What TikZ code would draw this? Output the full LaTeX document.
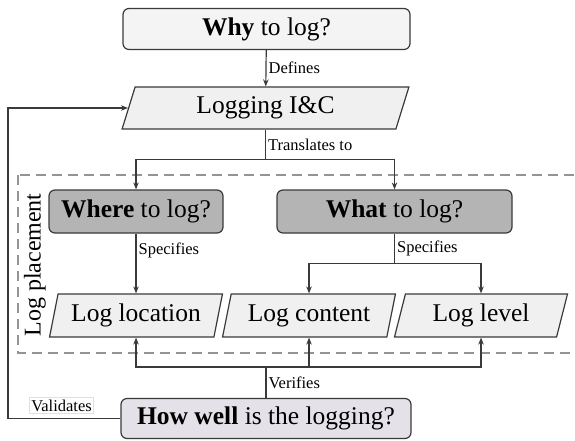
\documentclass[tikz,border=0pt]{standalone}
\usepackage{fontspec}
\setmainfont{Liberation Serif}
\usepackage{tikz}
\usetikzlibrary{arrows.meta}
\usetikzlibrary{shapes.geometric}
\definecolor{linegray}{HTML}{3A3A3A}
\definecolor{boxlight}{HTML}{F0F0F0}
\definecolor{boxdark}{HTML}{B4B4B4}
\definecolor{boxhow}{HTML}{E4E2E8}
\def\big#1{\fontsize{25.5}{28}\selectfont #1}
\def\lbl#1{\fontsize{16.5}{18}\selectfont #1}

\begin{document}
\begin{tikzpicture}[x=1pt,y=-1pt,->,>={Stealth[length=7pt,width=5.5pt]},
	line width=1.2pt,draw=linegray,text=black]
	\tikzstyle{question}=[draw=linegray,rounded corners=6pt,minimum height=41pt,inner sep=2pt]
	\tikzstyle{para}=[draw=linegray,fill=boxlight,trapezium,trapezium stretches=true,
		trapezium left angle=75,trapezium right angle=105,minimum height=42pt,inner sep=2pt]
	\tikzstyle{label}=[right,inner sep=2pt]
	\useasboundingbox (0,0) rectangle (575,441);

	\node[question,fill=boxlight!70!white,minimum width=287pt] (why) at (266.5,29) {\big{\textbf{Why} to log?}};
	\node[para,minimum width=287pt] (lic) at (265.5,108) {\big{Logging I\&C}};
	\node[question,fill=boxdark,minimum width=174pt,minimum height=43pt] (where) at (136,211.5) {\big{\textbf{Where} to log?}};
	\node[question,fill=boxdark,minimum width=235pt,minimum height=43pt] (what) at (394.5,211.5) {\big{\textbf{What} to log?}};
	\node[para,minimum width=173pt,minimum height=43pt] (loc) at (136,315.5) {\big{Log location}};
	\node[para,minimum width=173pt,minimum height=43pt] (cont) at (309,315.5) {\big{Log content}};
	\node[para,minimum width=173pt,minimum height=43pt] (lvl) at (481,315.5) {\big{Log level}};
	\node[question,fill=boxhow,minimum width=290pt,minimum height=40pt] (how) at (266,418.5) {\big{\textbf{How well} is the logging?}};
	\node[draw=black!12,fill=white,inner sep=2pt] (val) at (61.5,405.5) {\lbl{Validates}};
	\node[rotate=90] (place) at (35,265) {\fontsize{24}{26}\selectfont Log placement};
	\coordinate (back) at (8,0);

	% dashed frame round the placement questions
	\draw[-,draw=black!42,dash pattern=on 10pt off 6pt] (18,175) rectangle (590,353);

	\path
		(why) edge node [label] {\lbl{Defines}} (lic)
		(where) edge node [label,pos=0.28] {\lbl{Specifies}} (loc)
	;
	\draw (lic.south) -- node [label] {\lbl{Translates to}} ++(0,30) -| (where);
	\draw (lic.south) ++(0,30) -| (what);
	\draw (what.south) -- node [label] {\lbl{Specifies}} ++(0,30) -| (cont);
	\draw (what.south) ++(0,30) -| (lvl);
	\draw (how.north) -- node [label] {\lbl{Verifies}} ++(0,-31) -| (loc);
	\draw (how.north) ++(0,-31) -| (cont);
	\draw (how.north) ++(0,-31) -| (lvl);
	\draw (how.west) -- (how.west -| back) |- (lic.left side);
\end{tikzpicture}
\end{document}
